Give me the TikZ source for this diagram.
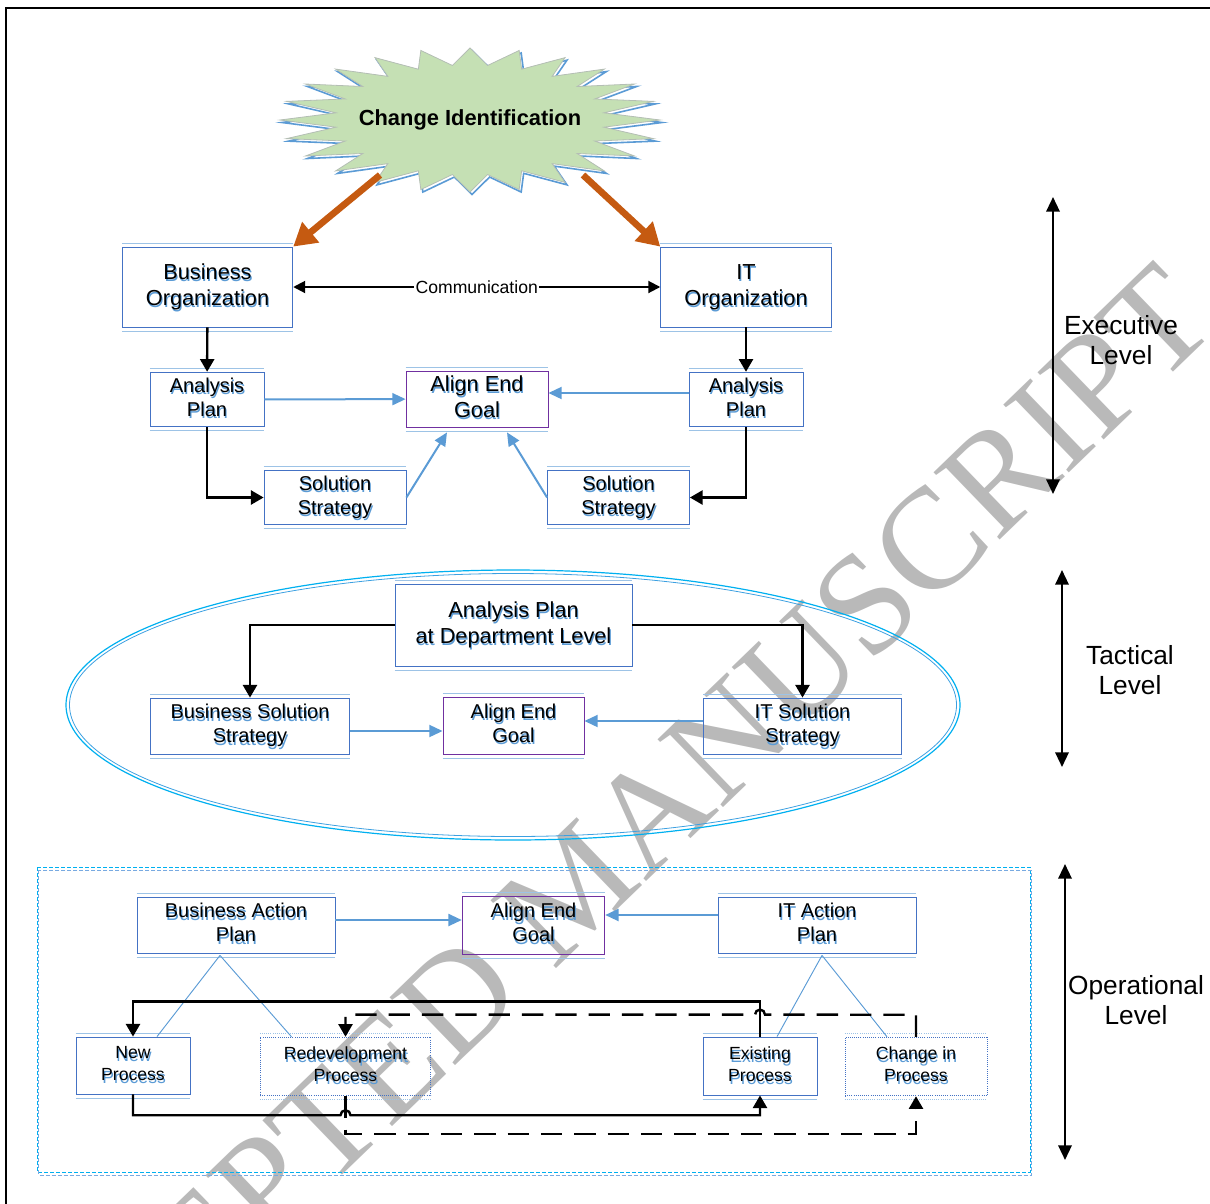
\documentclass[tikz,border=0pt]{standalone}
\usepackage{fontspec}
\setmainfont{Liberation Sans}
\newfontfamily\wmfont{Liberation Serif}
\usepackage{tikz}
\usetikzlibrary{arrows.meta}
\usetikzlibrary{calc}

\newcommand{\shtext}[1]{%
  \makebox[0pt][l]{\raisebox{-2pt}[0pt][0pt]{\hspace{0.8pt}\color[RGB]{91,155,213}\begin{tabular}{@{}c@{}}#1\end{tabular}}}%
  \begin{tabular}{@{}c@{}}#1\end{tabular}}

\begin{document}
\begin{tikzpicture}[x=0.75pt,y=0.75pt,yscale=-1,xscale=1,
  box/.style={draw={rgb, 255:red, 68; green, 114; blue, 196}, line width=0.6pt, inner sep=0pt, text=black},
  goalbox/.style={box, draw={rgb, 255:red, 112; green, 48; blue, 160}},
  dotbox/.style={box, densely dotted},
  lite/.style={draw={rgb, 255:red, 157; green, 195; blue, 230}, line width=0.6pt},
  f13/.style={font=\fontsize{13.2}{16.5}\selectfont},
  f15/.style={font=\fontsize{15}{18}\selectfont},
  f16/.style={font=\fontsize{16.3}{19.5}\selectfont},
  f20/.style={font=\fontsize{19.7}{22.5}\selectfont, align=center},
  blk/.style={line width=1.8pt, -{Triangle[length=9.5pt,width=10.5pt]}},
  blkd/.style={line width=1.5pt, {Triangle[length=9pt,width=9pt]}-{Triangle[length=9pt,width=9pt]}},
  blkdash/.style={blk, dash pattern=on 16pt off 9pt},
  blu/.style={color={rgb, 255:red, 91; green, 155; blue, 213}, line width=1.5pt, -{Triangle[length=10pt,width=9pt]}},
  thinblu/.style={draw={rgb, 255:red, 91; green, 155; blue, 213}, line width=0.7pt},
  orng/.style={color={rgb, 255:red, 197; green, 90; blue, 17}, line width=5pt, -{Triangle[length=17pt,width=19pt]}},
  lvl/.style={line width=1.7pt, {Triangle[length=11pt,width=10pt]}-{Triangle[length=11pt,width=10pt]}}
]
\useasboundingbox (0,0) rectangle (1210,1203);

% Watermark
\node[text={rgb, 255:red, 185; green, 185; blue, 185}, font=\wmfont\fontsize{108}{108}\selectfont, rotate=44] (wm) at (574,886) {ACCEPTED MANUSCRIPT};

%Shape: Frame
\draw[line width=2.2pt] (6,8) rectangle (1240,1240);

%Shape: Starburst shadow
\draw[draw={rgb, 255:red, 91; green, 155; blue, 213}, line width=1.2pt, shift={(472,122.5)}] (190,0) \foreach \i in {1,...,47}{ -- ({(mod(\i,2)==1?135:190)*cos(\i*7.5)},{(mod(\i,2)==1?55:72)*sin(\i*7.5)}) } -- cycle;
%Shape: Starburst
\filldraw[fill={rgb, 255:red, 197; green, 224; blue, 180}, draw={rgb, 255:red, 180; green, 190; blue, 180}, line width=0.6pt, shift={(470,120)}] (190,0) \foreach \i in {1,...,47}{ -- ({(mod(\i,2)==1?135:190)*cos(\i*7.5)},{(mod(\i,2)==1?55:72)*sin(\i*7.5)}) } -- cycle;
% Text Node
\node[font=\bfseries\fontsize{16.4}{19}\selectfont] (ci) at (470,120) {Change Identification};

%Shape: Tactical ellipse
\draw[draw={rgb, 255:red, 0; green, 176; blue, 240}, line width=0.9pt] (513,705) ellipse (447 and 135);
\draw[draw={rgb, 255:red, 60; green, 160; blue, 225}, line width=0.6pt] (513,705) ellipse (443.5 and 131.5);

%Shape: Operational frame
\draw[draw={rgb, 255:red, 0; green, 176; blue, 240}, line width=0.6pt, dash pattern=on 3pt off 1.5pt] (37,867) rectangle (1030,1172);
\draw[draw={rgb, 255:red, 120; green, 170; blue, 225}, line width=0.6pt, dash pattern=on 3pt off 1.5pt] (38.5,870) rectangle (1031,1175);

% Executive level
\node[box, f16, minimum width=128pt, minimum height=60pt] (bo) at (207.5,287) {\shtext{Business\\Organization}};
\node[box, f16, minimum width=128pt, minimum height=60pt] (io) at (746,287) {\shtext{IT\\Organization}};
\node[box, f15, minimum width=85.5pt, minimum height=41pt] (apb) at (207,399.5) {\shtext{Analysis\\Plan}};
\node[goalbox, f16, minimum width=106.5pt, minimum height=42pt] (agt) at (477,399) {\shtext{Align End\\Goal}};
\node[box, f15, minimum width=85.5pt, minimum height=41pt] (api) at (746,399.5) {\shtext{Analysis\\Plan}};
\node[box, f15, minimum width=106.5pt, minimum height=41pt] (ssb) at (335,497.5) {\shtext{Solution\\Strategy}};
\node[box, f15, minimum width=106.5pt, minimum height=41pt] (ssi) at (618.5,497.5) {\shtext{Solution\\Strategy}};

% Tactical level
\node[box, f16, minimum width=177.75pt, minimum height=61.5pt] (apd) at (513.5,625) {\shtext{Analysis Plan\\at Department Level}};
\node[box, f15, minimum width=149pt, minimum height=42pt] (bss) at (250,726) {\shtext{Business Solution\\Strategy}};
\node[goalbox, f15, minimum width=105.75pt, minimum height=42.75pt] (agm) at (513.5,725.5) {\shtext{Align End\\Goal}};
\node[box, f15, minimum width=148pt, minimum height=42pt] (iss) at (802.5,726) {\shtext{IT Solution\\Strategy}};

% Operational level
\node[box, f15, minimum width=148.5pt, minimum height=42pt] (bap) at (236,925) {\shtext{Business Action\\Plan}};
\node[goalbox, f15, minimum width=107pt, minimum height=43.5pt] (agb) at (533.5,925) {\shtext{Align End\\Goal}};
\node[box, f15, minimum width=148.5pt, minimum height=42pt] (iap) at (817,925) {\shtext{IT Action\\Plan}};
\node[box, f13, minimum width=85.5pt, minimum height=42.75pt] (np) at (133,1065.5) {\shtext{New\\Process}};
\node[dotbox, f13, minimum width=128pt, minimum height=44pt] (rd) at (345.5,1066.5) {\shtext{Redevelopment\\Process}};
\node[box, f13, minimum width=85.5pt, minimum height=43.5pt] (ep) at (760,1066) {\shtext{Existing\\Process}};
\node[dotbox, f13, minimum width=106.5pt, minimum height=44pt] (cp) at (916,1066.5) {\shtext{Change in\\Process}};

% light edges of the boxes
\foreach \n in {bo,io,apb,agt,api,ssb,ssi,apd,bss,agm,iss,bap,agb,iap,np,ep}
  \draw[lite] ($(\n.north west)+(0,-3.5)$) -- ($(\n.north east)+(0,-3.5)$) ($(\n.south west)+(0,3.5)$) -- ($(\n.south east)+(0,3.5)$);
\foreach \n in {rd,cp}
  \draw[lite, densely dotted] ($(\n.north west)+(0,-3)$) -- ($(\n.north east)+(0,-3)$) ($(\n.south west)+(0,3)$) -- ($(\n.south east)+(0,3)$);

% Level labels
\node[f20] (exl) at (1121,340) {Executive\\Level};
\node[f20] (tal) at (1130,670) {Tactical\\Level};
\node[f20] (opl) at (1136,1000) {Operational\\Level};
\coordinate (ex1) at (1053,197);
\coordinate (ex2) at (1053,494);
\coordinate (ta1) at (1062,570);
\coordinate (ta2) at (1062,767);
\coordinate (op1) at (1065,864);
\coordinate (op2) at (1065,1160);
\draw[lvl] (ex1) -- (ex2);
\draw[lvl] (ta1) -- (ta2);
\draw[lvl] (op1) -- (op2);

% Orange arrows
\coordinate (cl) at (380,175);
\coordinate (cr) at (583,175);
\draw[orng] (cl) -- (bo.north east);
\draw[orng] (cr) -- (io.north west);

% Executive connectors
\draw[blkd] (bo) -- node[fill=white, inner sep=1pt, font=\fontsize{13.2}{15}\selectfont] (com) {Communication} (io);
\draw[blk] (bo) -- (apb);
\draw[blk] (io) -- (api);
\draw[blu] (apb) -- (agt);
\draw[blu] ($(api.west)+(0,-6.5)$) -- ($(agt.east)+(0,-6)$);
\draw[blk] (apb) |- (ssb);
\draw[blk] (api) |- (ssi);
\draw[blu] (ssb.east) -- ($(agt.south)+(-30,5)$);
\draw[blu] (ssi.west) -- ($(agt.south)+(30,5)$);

% Tactical connectors
\draw[blk] (apd) -| (bss);
\draw[blk] (apd) -| (iss);
\draw[blu] ($(bss.east)+(0,5)$) -- ($(agm.west)+(0,5.5)$);
\draw[blu] ($(iss.west)+(0,-5)$) -- ($(agm.east)+(0,-4.5)$);

% Operational connectors
\draw[blu] ($(bap.east)+(0,-5)$) -- ($(agb.west)+(0,-5)$);
\draw[blu] ($(iap.west)+(0,-10)$) -- ($(agb.east)+(0,-10)$);
\draw[thinblu] ($(bap.south)+(-16,2)$) -- ($(np.north)+(24,0)$);
\draw[thinblu] ($(bap.south)+(-16,2)$) -- ($(rd.north)+(-54,0)$);
\draw[thinblu] ($(iap.south)+(5,2)$) -- ($(ep.north)+(17,0)$);
\draw[thinblu] ($(iap.south)+(5,2)$) -- ($(cp.north)+(-29,0)$);
\draw[blk] (ep.north) -- ++(0,-35) -| (np.north);
\draw[blk] (np.south) |- ($(rd.south)+(-5,19)$) arc (180:360:5) -| (ep.south);
\draw[blkdash] (cp.north) -- ++(0,-22) -- ($(ep.north)+(5,-22)$) arc (0:-180:5) -| (rd.north);
\draw[blkdash] (rd.south) -- ++(0,38) -| (cp.south);

\end{tikzpicture}
\end{document}
